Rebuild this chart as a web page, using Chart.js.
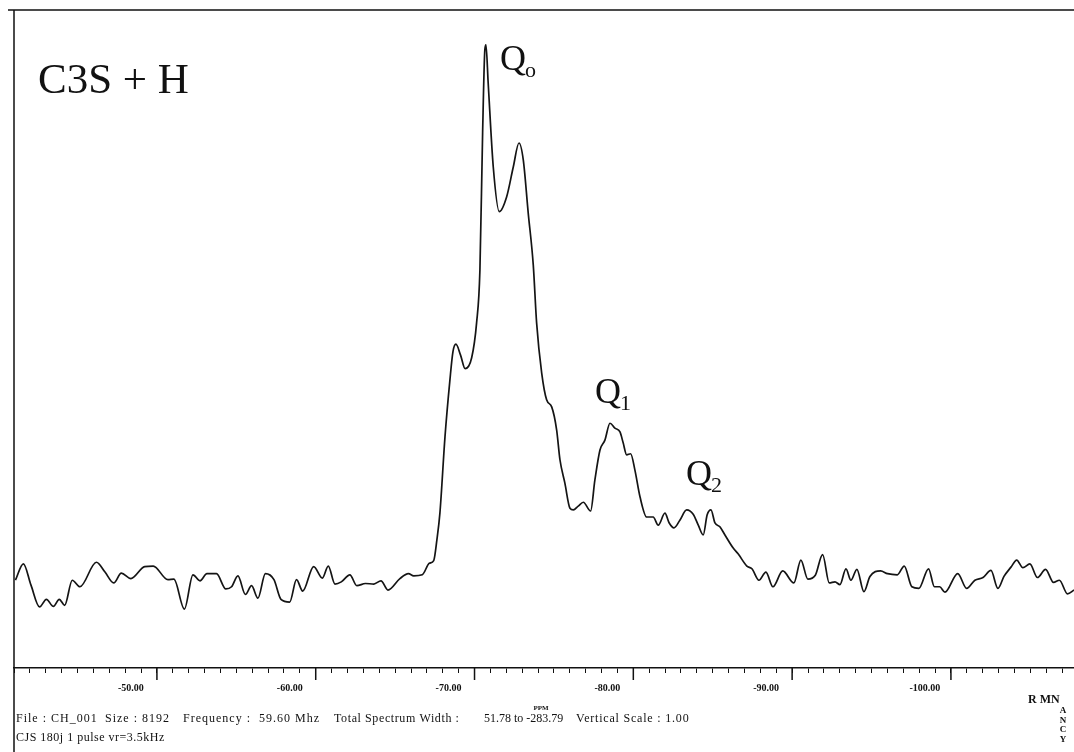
<!DOCTYPE html>
<html>
<head>
<meta charset="utf-8">
<title>C3S + H</title>
<script src="https://cdn.jsdelivr.net/npm/chart.js@4.4.1/dist/chart.umd.min.js"></script>
<style>
  html, body { margin: 0; padding: 0; background: #fff; }
  #caja { position: relative; width: 1074px; height: 752px; }
</style>
</head>
<body>
<div id="caja"><canvas id="espectro"></canvas></div>
<script>
// desplazamiento quimico (ppm) e intensidad relativa del espectro 29Si
const desplazamiento = [
  -41.09, -41.59, -42.07, -42.61, -43.04, -43.48, -43.85, -44.19, -44.67, -45.15,
  -46.19, -46.73, -47.28, -47.76, -48.36, -49.23, -49.77, -50.69, -51.07, -51.73,
  -52.27, -52.71, -53.15, -53.75, -54.34, -54.70, -55.10, -55.57, -55.96, -56.36,
  -56.83, -57.37, -57.81, -58.36, -58.79, -59.18, -59.87, -60.42, -60.79, -61.21,
  -61.61, -62.15, -62.59, -63.13, -63.66, -64.11, -64.55, -65.30, -65.84, -66.17,
  -66.71, -67.15, -67.43, -67.63, -67.82, -68.14, -68.45, -68.64, -68.83, -69.12,
  -69.41, -69.82, -70.13, -70.34, -70.51, -70.65, -70.72, -70.86, -71.18, -71.56,
  -72.02, -72.44, -72.80, -73.07, -73.38, -73.70, -73.91, -74.23, -74.54, -74.86,
  -75.17, -75.38, -75.69, -76.01, -76.22, -76.53, -76.85, -77.31, -77.58, -77.90,
  -78.21, -78.53, -78.84, -79.16, -79.36, -79.58, -79.83, -80.10, -80.42, -80.84,
  -81.25, -81.57, -81.99, -82.26, -82.56, -82.93, -83.36, -83.77, -84.09, -84.40,
  -84.65, -84.89, -85.14, -85.45, -85.77, -86.29, -86.61, -87.15, -87.47, -87.91,
  -88.35, -88.79, -89.41, -90.11, -90.55, -90.99, -91.46, -91.92, -92.34, -92.70,
  -93.01, -93.39, -93.70, -94.08, -94.52, -94.90, -95.57, -96.01, -96.62, -97.06,
  -97.54, -97.98, -98.59, -98.96, -99.29, -99.62, -100.43, -100.99, -101.51, -102.02,
  -102.52, -102.96, -103.34, -103.78, -104.14, -104.53, -104.97, -105.45, -105.96, -106.46,
  -106.83, -107.34, -107.75
];
const intensidad = [
  1.8, 4.8, 0.9, -3.1, -1.7, -3.0, -1.7, -2.8, 1.8, 0.6,
  5.1, 3.3, 1.3, 3.1, 2.1, 4.3, 4.4, 1.9, 2.0, -3.5,
  2.8, 1.7, 3.0, 3.0, 0.2, 0.6, 2.6, -0.8, 0.8, -1.5,
  3.0, 1.9, -1.7, -2.2, 1.9, -0.2, 4.3, 2.2, 4.4, 1.1,
  1.5, 2.8, 0.8, 1.2, 1.1, 1.7, 0.0, 2.1, 3.0, 2.6,
  2.8, 4.9, 5.4, 9.2, 14.1, 28.1, 38.5, 43.7, 45.1, 43.1,
  40.6, 42.6, 49.0, 58.7, 83.9, 99.1, 100.0, 93.0, 77.6, 69.4,
  72.1, 77.6, 82.0, 78.9, 69.2, 59.6, 49.0, 39.8, 34.9, 33.6,
  29.4, 23.9, 19.6, 15.0, 14.7, 15.4, 16.1, 14.5, 20.2, 25.7,
  27.5, 30.6, 29.7, 29.0, 27.0, 24.8, 25.0, 22.0, 17.1, 13.4,
  13.4, 11.9, 14.1, 12.3, 11.4, 12.8, 14.7, 13.9, 11.9, 10.1,
  13.8, 14.7, 12.3, 11.6, 10.1, 7.7, 6.6, 4.4, 3.9, 1.8,
  3.3, 0.6, 3.5, 1.3, 5.5, 2.0, 2.7, 6.5, 1.3, 1.5,
  1.0, 3.9, 1.8, 3.8, -0.3, 2.5, 3.5, 3.0, 2.8, 4.4,
  0.6, 0.3, 3.9, 0.6, 0.6, -0.4, 3.0, 0.3, 1.8, 2.3,
  3.6, 0.3, 2.5, 4.2, 5.5, 4.1, 4.8, 2.3, 3.8, 1.4,
  1.8, -0.7, 0.0
];

// marcas grandes del eje (ppm)
const marcasMayores = [-50, -60, -70, -80, -90, -100];

// etiquetas de los picos Qn
const picoLetra = ['Q', 'Q', 'Q'];
const picoSub = ['o', '1', '2'];
const picoPpm = [-71.6, -77.58, -83.31];
const picoAltura = [95.4, 34.3, 19.3];

const ejeMin = -107.75;
const ejeMax = -41.0;

const serif = '"Liberation Serif", "DejaVu Serif", serif';

// texto del pie: [texto, x, y, espaciado]
const pie = [
  ['File : CH_001', 16, 722, '1px'],
  ['Size : 8192', 105, 722, '1px'],
  ['Frequency :  59.60 Mhz', 183, 722, '1px'],
  ['Total Spectrum Width :', 334, 722, '0.6px'],
  ['51.78 to -283.79', 484, 722, '0px'],
  ['Vertical Scale : 1.00', 576, 722, '0.8px'],
  ['CJS 180j 1 pulse vr=3.5kHz', 16, 741, '0.5px']
];

const marco = {
  id: 'marco',
  afterDraw(chart) {
    const c = chart.ctx;
    const area = chart.chartArea;
    const sx = chart.scales.x;
    const sy = chart.scales.y;
    c.save();
    c.strokeStyle = '#111';
    c.lineWidth = 1.5;

    // borde de arriba y borde izquierdo (baja hasta el pie de la hoja)
    c.beginPath();
    c.moveTo(8, area.top);
    c.lineTo(area.right, area.top);
    c.moveTo(area.left, area.top);
    c.lineTo(area.left, chart.height);
    c.stroke();

    // marcas largas cada 10 ppm
    c.beginPath();
    marcasMayores.forEach(v => {
      const px = sx.getPixelForValue(v);
      c.moveTo(px, area.bottom);
      c.lineTo(px, area.bottom + 12);
    });
    c.stroke();

    c.fillStyle = '#111';
    c.textBaseline = 'alphabetic';
    c.textAlign = 'left';

    // muestra
    c.font = '43px ' + serif;
    c.fillText('C3S + H', 38, 93);

    // Q0, Q1, Q2
    picoLetra.forEach((letra, i) => {
      const px = sx.getPixelForValue(picoPpm[i]);
      const py = sy.getPixelForValue(picoAltura[i]);
      c.font = '36px ' + serif;
      c.fillText(letra, px, py);
      const w = c.measureText(letra).width;
      c.font = '22px ' + serif;
      c.fillText(picoSub[i], px + w - 1, py + 7);
    });

    // pie con los datos de adquisicion
    c.font = 'bold 7px ' + serif;
    c.textAlign = 'center';
    c.fillText('PPM', 541, 710);

    c.textAlign = 'left';
    c.font = '12px ' + serif;
    pie.forEach(([t, x, y, esp]) => {
      c.letterSpacing = esp;
      c.fillText(t, x, y);
    });
    c.letterSpacing = '0px';

    c.font = 'bold 12px ' + serif;
    c.fillText('R MN', 1028, 703);
    c.font = 'bold 9px ' + serif;
    c.textAlign = 'center';
    ['A', 'N', 'C', 'Y'].forEach((l, i) => c.fillText(l, 1063, 713 + i * 9.5));
    c.restore();
  }
};

new Chart(document.getElementById('espectro'), {
  type: 'line',
  data: {
    datasets: [{
      data: desplazamiento.map((x, i) => ({ x: x, y: intensidad[i] })),
      borderColor: '#141414',
      borderWidth: 1.7,
      pointRadius: 0,
      fill: false,
      cubicInterpolationMode: 'monotone'
    }]
  },
  options: {
    responsive: true,
    maintainAspectRatio: false,
    animation: false,
    layout: { padding: { left: 14, top: 10, right: 0, bottom: 0 } },
    plugins: { legend: { display: false }, tooltip: { enabled: false } },
    scales: {
      x: {
        type: 'linear',
        reverse: true,
        min: ejeMin,
        max: ejeMax,
        afterFit: (eje) => { eje.height = 84; },
        border: { display: true, color: '#111', width: 1.5 },
        grid: { drawOnChartArea: false, drawTicks: true, tickLength: 5, color: '#111', lineWidth: 1 },
        ticks: {
          stepSize: 1,
          autoSkip: false,
          includeBounds: false,
          maxRotation: 0,
          padding: 9,
          labelOffset: -26,
          color: '#111',
          font: { family: serif, size: 10, weight: 'bold' },
          callback: (v) => (Math.round(v) % 10 === 0 ? v.toFixed(2) : '')
        }
      },
      y: {
        display: false,
        min: -14.3,
        max: 106.4
      }
    }
  },
  plugins: [marco]
});
</script>
</body>
</html>
